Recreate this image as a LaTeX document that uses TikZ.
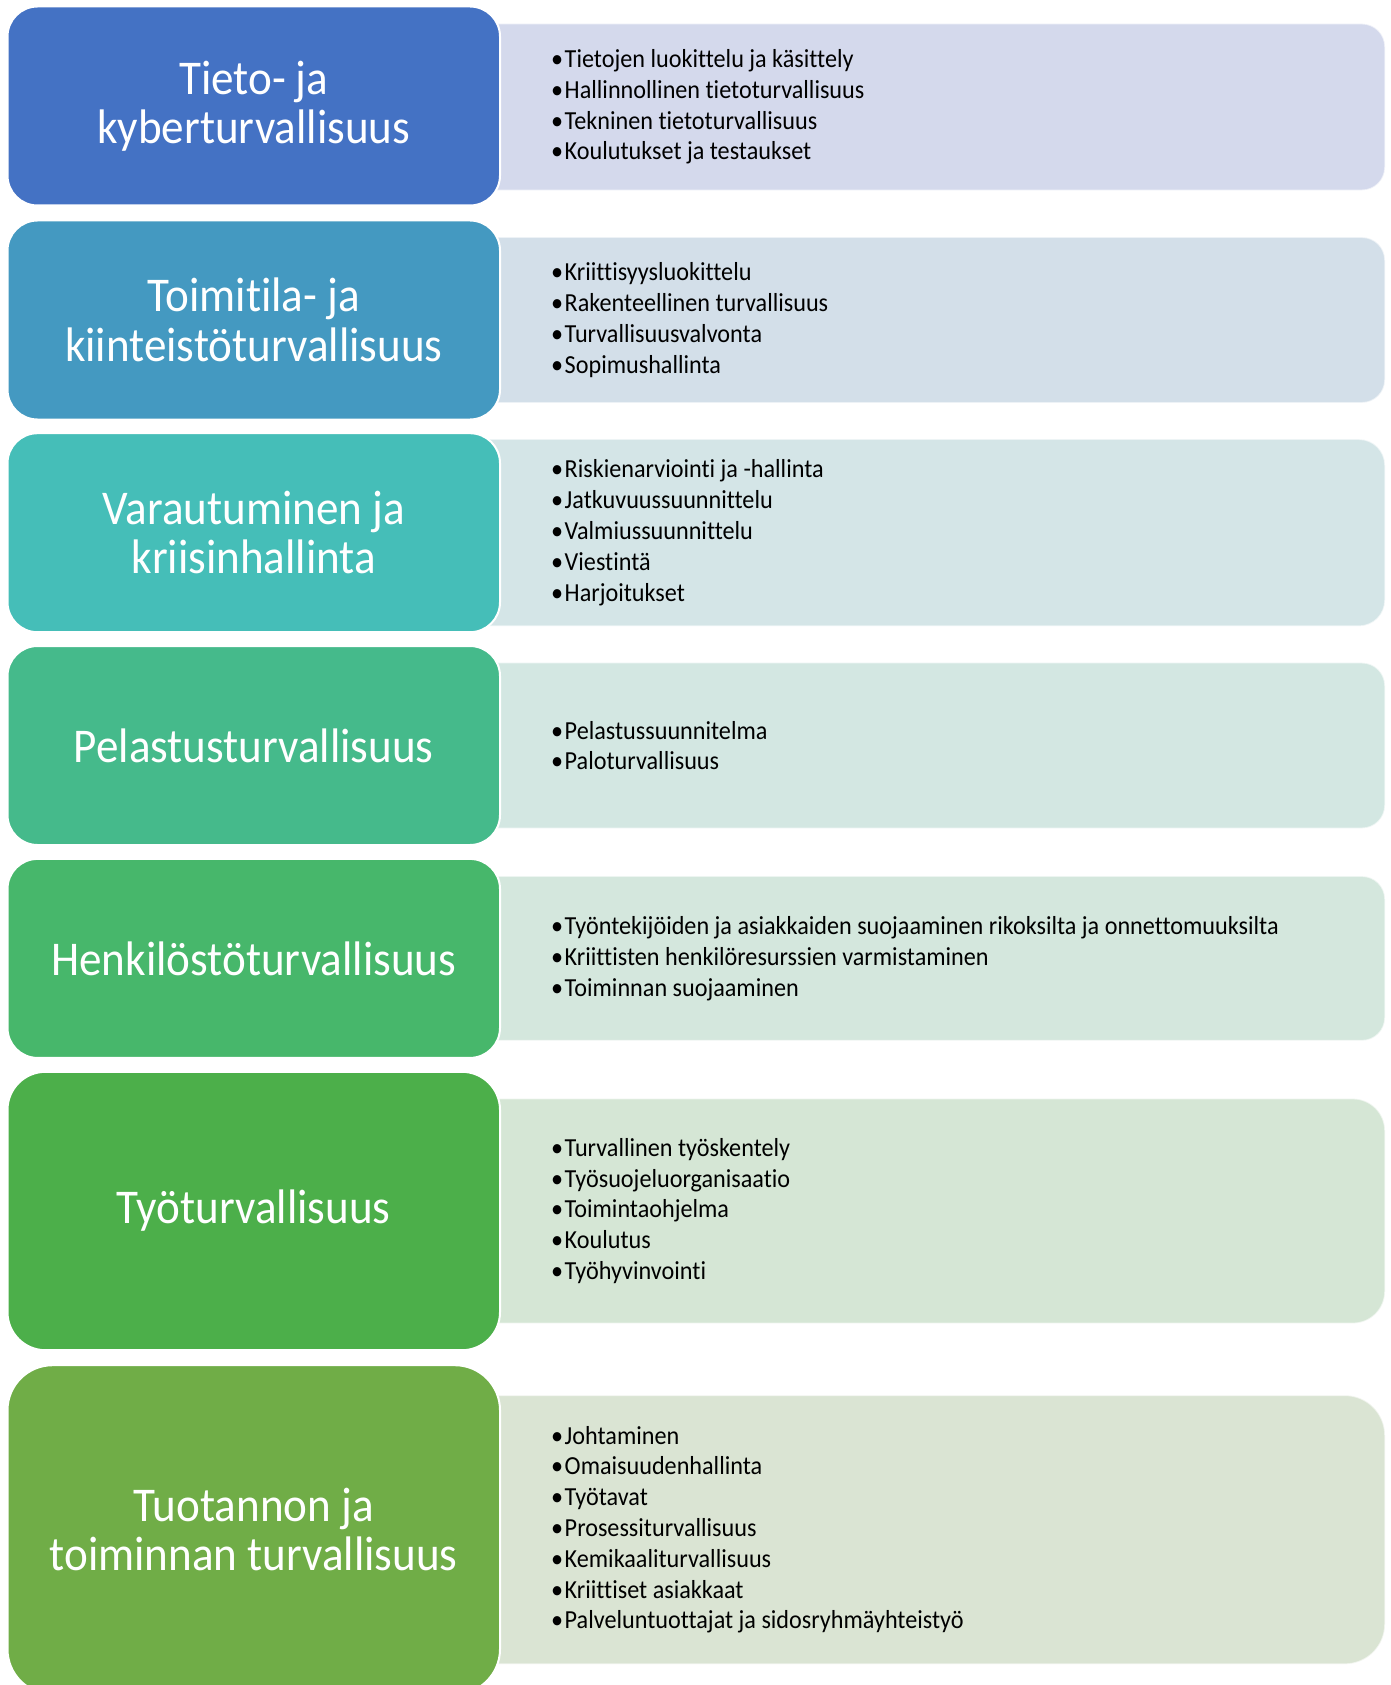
\documentclass[tikz,border=0pt]{standalone}
\usepackage{fontspec}
\setmainfont{Carlito}[FakeStretch=0.93, Ligatures=NoCommon]
\definecolor{hA}{HTML}{4472C4}\definecolor{bA}{HTML}{D4D9EC}
\definecolor{hB}{HTML}{4499C1}\definecolor{bB}{HTML}{D3DFE9}
\definecolor{hC}{HTML}{45BEB8}\definecolor{bC}{HTML}{D4E5E7}
\definecolor{hD}{HTML}{45BA8B}\definecolor{bD}{HTML}{D3E7E2}
\definecolor{hE}{HTML}{47B76B}\definecolor{bE}{HTML}{D4E7DD}
\definecolor{hF}{HTML}{4CAF4A}\definecolor{bF}{HTML}{D5E6D5}
\definecolor{hG}{HTML}{70AD47}\definecolor{bG}{HTML}{DAE4D3}
% bullet mark with a narrow gap before the item text
\newcommand\itm{•\kern1.5pt}
\begin{document}
\begin{tikzpicture}[x=1pt,y=-1pt,
  headbox/.style={rectangle, rounded corners=#1, draw=white, line width=2pt,
    minimum width=492.5pt, inner sep=0pt, text=white, align=center,
    font=\fontsize{48.5}{49.5}\selectfont},
  listbox/.style={rectangle, rounded corners=#1, draw=white, draw opacity=0.6,
    line width=1.5pt, minimum width=945pt, inner sep=0pt},
  listtext/.style={anchor=west, align=left, inner sep=0pt, text=black,
    font=\fontsize{26}{30.8}\selectfont}]
\useasboundingbox (0,0) rectangle (1390,1685);
\begin{scope}
\clip (0,0) rectangle (1390,1685);

% row 1
\node[listbox=23pt, fill=bA, minimum height=166.6pt] (b1) at (912.5,107) {};
\node[headbox=30pt, fill=hA, minimum height=199pt] (h1) at (253.75,106) {Tieto- ja\\kyberturvallisuus};
\node[listtext] (t1) at (551,107) {\itm Tietojen luokittelu ja käsittely\\\itm Hallinnollinen tietoturvallisuus\\\itm Tekninen tietoturvallisuus\\\itm Koulutukset ja testaukset};

% row 2
\node[listbox=23pt, fill=bB, minimum height=165.6pt] (b2) at (912.5,320) {};
\node[headbox=30pt, fill=hB, minimum height=199pt] (h2) at (253.75,320) {Toimitila- ja\\kiinteistöturvallisuus};
\node[listtext] (t2) at (551,320) {\itm Kriittisyysluokittelu\\\itm Rakenteellinen turvallisuus\\\itm Turvallisuusvalvonta\\\itm Sopimushallinta};

% row 3
\node[listbox=26pt, fill=bC, minimum height=187pt] (b3) at (912.5,532.7) {};
\node[headbox=30pt, fill=hC, minimum height=199pt] (h3) at (253.75,532.7) {Varautuminen ja\\kriisinhallinta};
\node[listtext] (t3) at (551,532.7) {\itm Riskienarviointi ja -hallinta\\\itm Jatkuvuussuunnittelu\\\itm Valmiussuunnittelu\\\itm Viestintä\\\itm Harjoitukset};

% row 4
\node[listbox=23pt, fill=bD, minimum height=165.6pt] (b4) at (912.5,745.5) {};
\node[headbox=30pt, fill=hD, minimum height=199pt] (h4) at (253.75,745.5) {Pelastusturvallisuus};
\node[listtext] (t4) at (551,745.5) {\itm Pelastussuunnitelma\\\itm Paloturvallisuus};

% row 5
\node[listbox=23pt, fill=bE, minimum height=164.5pt] (b5) at (912.5,958.4) {};
\node[headbox=30pt, fill=hE, minimum height=199pt] (h5) at (253.75,958.4) {Henkilöstöturvallisuus};
\node[listtext] (t5) at (551,958.4) {\itm Työntekijöiden ja asiakkaiden suojaaminen rikoksilta ja onnettomuuksilta\\\itm Kriittisten henkilöresurssien varmistaminen\\\itm Toiminnan suojaaminen};

% row 6
\node[listbox=32pt, fill=bF, minimum height=224.7pt] (b6) at (912.5,1211) {};
\node[headbox=38pt, fill=hF, minimum height=278.4pt] (h6) at (253.75,1211) {Työturvallisuus};
\node[listtext] (t6) at (551,1211) {\itm Turvallinen työskentely\\\itm Työsuojeluorganisaatio\\\itm Toimintaohjelma\\\itm Koulutus\\\itm Työhyvinvointi};

% row 7
\node[listbox=40pt, fill=bG, minimum height=268.8pt] (b7) at (912.5,1529.7) {};
\node[headbox=45pt, fill=hG, minimum height=329pt] (h7) at (253.75,1529.7) {Tuotannon ja\\toiminnan turvallisuus};
\node[listtext] (t7) at (551,1529.7) {\itm Johtaminen\\\itm Omaisuudenhallinta\\\itm Työtavat\\\itm Prosessiturvallisuus\\\itm Kemikaaliturvallisuus\\\itm Kriittiset asiakkaat\\\itm Palveluntuottajat ja sidosryhmäyhteistyö};
\end{scope}
\end{tikzpicture}
\end{document}
